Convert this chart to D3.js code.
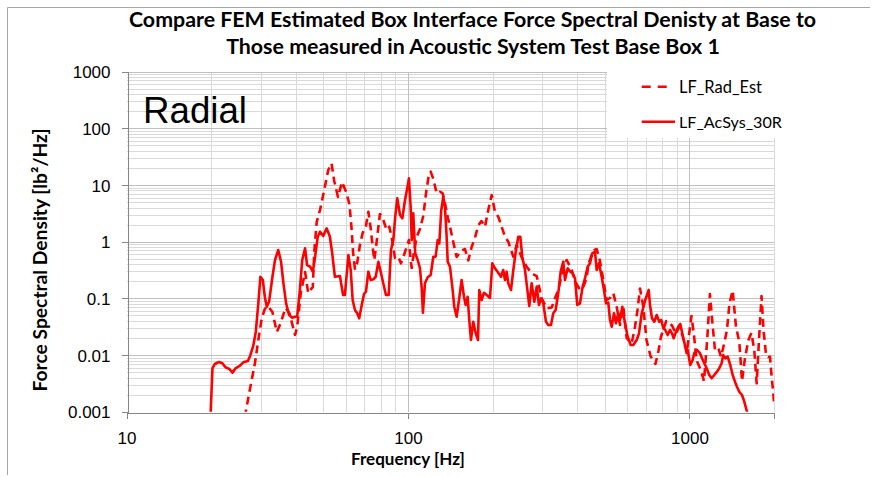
<!DOCTYPE html>
<html><head><meta charset="utf-8">
<script src="https://cdn.jsdelivr.net/npm/d3@7"></script>
<style>body{margin:0;background:#fff}svg{display:block}</style>
</head><body>
<svg id="c" width="881" height="477"></svg>
<script>
// ---------- data ----------
const titleLines = ["Compare FEM Estimated Box Interface Force Spectral Denisty at Base to",
                    "Those measured in Acoustic System Test Base Box 1"];
const xTicks = [10, 100, 1000];
const xTickLabels = ["10", "100", "1000"];
const yTicks = [0.001, 0.01, 0.1, 1, 10, 100, 1000];
const yTickLabels = ["0.001", "0.01", "0.1", "1", "10", "100", "1000"];
const seriesNames = ["LF_Rad_Est", "LF_AcSys_30R"];

const freqSolid = [19.8,20.2,20.6,21.3,21.9,22.5,23.2,23.8,24.4,25.3,26.0,27.0,27.5,28.2,28.8,29.4,29.9,30.5,31.0,31.5,
 32.1,33.0,33.7,34.6,35.4,36.1,36.9,37.8,38.8,39.7,40.4,41.3,42.1,43.1,43.8,44.9,45.9,46.7,47.8,48.7,
 50.0,51.4,52.8,53.8,55.0,57.3,58.8,59.7,61.4,62.6,63.6,64.8,66.0,67.1,68.5,69.8,70.9,72.3,73.7,75.3,
 76.8,78.5,80.0,81.7,83.5,85.4,87.0,88.7,90.1,91.6,93.7,95.5,97.6,99.4,100.8,102.2,103.1,104.4,106.1,108.3,
 110.3,111.9,113.0,114.9,117.5,120.4,123.0,125.4,127.5,129.2,131.3,133.5,135.3,137.2,138.4,141.0,144.1,146.0,148.9,151.8,
 155.1,158.1,160.3,162.9,165.1,167.4,170.6,174.0,177.3,179.2,182.7,186.2,190.4,195.6,199.3,203.7,209.3,213.9,218.0,221.1,
 224.2,227.1,232.3,236.7,241.4,246.5,250.6,254.7,260.4,264.7,269.7,275.0,281.0,286.6,292.0,296.9,302.5,309.2,315.1,322.1,
 328.2,334.7,341.9,348.7,356.2,361.2,369.3,377.2,384.7,392.0,399.4,408.3,417.4,425.4,434.9,443.2,451.6,461.7,468.1,477.1,
 487.7,497.0,505.2,514.8,522.0,529.3,539.4,548.3,558.7,566.5,577.3,590.2,603.4,618.3,631.7,649.4,661.8,676.6,696.6,716.4,
 724.0,735.9,749.9,764.7,781.1,794.0,807.1,820.4,836.8,852.6,866.7,878.9,895.4,915.4,927.5,945.8,966.3,985.4,1006.5,1026.5,
 1040,1063,1090,1108,1129,1151,1176,1199,1225,1252,1276,1301,1318,1340,1367,1396,1424,1451,1475,1503,
 1537,1566,1610];
const valSolid = [0.0005,0.00585,0.00697,0.00755,0.00717,0.00609,0.00569,0.0049,0.00585,0.0065,0.00746,0.00787,0.00976,0.0145,0.0259,0.0819,0.241,0.211,0.107,0.0714,
 0.0874,0.241,0.476,0.714,0.444,0.185,0.0819,0.051,0.0457,0.0475,0.0475,0.141,0.476,0.765,0.388,0.362,0.296,0.51,1.225,1.50,
 1.26,1.72,1.225,0.624,0.241,0.248,0.115,0.115,0.583,0.317,0.0937,0.0624,0.0546,0.0446,0.0765,0.12,0.131,0.296,0.211,0.217,
 0.241,0.444,0.296,0.185,0.115,0.115,0.714,1.07,2.76,5.83,2.96,2.59,5.44,8.74,13.1,4.14,1.07,3.17,0.624,0.476,
 0.34,0.151,0.056,0.185,0.236,0.259,0.544,0.544,1.07,0.937,3.62,6.22,4.14,1.225,0.444,0.362,0.141,0.0714,0.0475,0.0937,
 0.211,0.107,0.0765,0.107,0.0416,0.0185,0.0388,0.0242,0.0185,0.141,0.0937,0.126,0.115,0.102,0.416,0.34,0.284,0.241,0.317,0.211,
 0.296,0.185,0.141,0.317,0.666,1.225,1.225,0.544,0.317,0.161,0.0734,0.185,0.0874,0.161,0.0765,0.1,0.0819,0.0388,0.034,0.034,
 0.0546,0.0624,0.123,0.296,0.444,0.211,0.34,0.296,0.277,0.226,0.0765,0.0819,0.161,0.226,0.362,0.416,0.624,0.666,0.317,0.416,
 0.241,0.141,0.0819,0.084,0.0416,0.0317,0.0546,0.0364,0.0546,0.0416,0.0714,0.0364,0.0211,0.0151,0.0151,0.0185,0.0242,0.0546,0.0937,0.141,
 0.0765,0.0446,0.0388,0.051,0.0388,0.0416,0.0297,0.0277,0.0226,0.0277,0.0242,0.0198,0.0259,0.0326,0.0354,0.0226,0.0141,0.0123,0.00669,0.0082,
 0.0108,0.0123,0.0108,0.00878,0.00717,0.00585,0.00446,0.0039,0.00446,0.0051,0.00585,0.00717,0.01,0.00878,0.00937,0.00669,0.00446,0.0034,0.00277,0.00226,
 0.00198,0.00151,0.0009];

const freqDash = [26.3,27.5,28.6,29.4,30.2,31.0,31.8,33.0,34.2,35.3,36.7,37.9,39.7,40.4,41.6,43.1,44.2,45.9,46.5,47.4,
 48.7,50.4,52.1,53.5,54.7,56.4,58.3,60.5,62.0,63.0,63.8,64.8,66.0,67.5,69.0,70.9,72.3,73.7,74.9,75.9,
 77.0,78.2,79.5,81.7,84.0,85.8,87.5,89.9,92.4,94.4,96.8,99.0,100.8,102.2,103.1,105.0,107.4,110.3,113.3,116.3,
 118.3,120.4,123.0,126.5,129.9,132.8,135.3,138.7,142.1,146.9,148.9,153.0,159.4,163.8,168.4,173.0,177.3,182.4,187.7,193.2,
 198.3,203.7,209.3,215.2,221.1,227.1,232.3,236.7,243.4,250.0,256.8,264.1,275.0,286.6,298.5,311.0,324.0,332.9,341.9,356.2,
 366.3,381.6,392.0,402.7,408.3,419.5,431.3,437.0,449.3,459.7,468.1,480.9,494.1,508.0,522.0,536.3,551.4,566.5,582.0,598.3,
 623.4,640.4,653.7,667.2,685.5,703.5,727.0,757.0,776.0,792.0,827.1,849.1,871.5,895.4,920.0,945.8,977.4,1016.5,1037.5,1059,
 1097,1126,1156,1182,1207,1232,1266,1294,1329,1359,1387,1424,1463,1503,1537,1575,1620,1660,1699,1733,
 1766,1803,1833,1871,1901,1932,1959,1985,2000];
const valDash = [0.0008,0.00263,0.00726,0.0185,0.0433,0.065,0.0734,0.0575,0.0256,0.0368,0.0677,0.0553,0.0226,0.0313,0.1245,0.292,0.1245,0.159,0.714,2.23,
 3.62,8.16,18.4,24.1,11.8,6.14,11.3,7.23,4.44,1.744,0.658,0.33,0.421,0.875,1.423,1.892,3.38,1.744,0.816,0.476,
 0.806,1.544,3.08,2.414,1.608,1.839,1.21,0.516,0.544,0.416,0.583,0.816,1.072,0.476,0.344,0.658,1.21,1.675,2.84,8.16,
 13.8,17.2,12.8,7.14,7.62,7.14,4.81,2.618,1.544,0.714,0.537,0.666,0.743,0.466,0.816,1.162,1.892,2.318,1.839,3.77,
 6.66,3.38,2.76,1.839,1.225,1.0,0.714,0.544,0.875,0.624,0.457,0.362,0.277,0.248,0.1004,0.0669,0.0691,0.1004,0.1406,0.344,
 0.476,0.317,0.2027,0.159,0.1406,0.161,0.226,0.388,0.583,0.714,0.743,0.457,0.211,0.0937,0.1016,0.123,0.0714,0.034,0.0714,0.02,
 0.0161,0.0313,0.0624,0.1495,0.0714,0.0185,0.00964,0.00697,0.0118,0.0211,0.04,0.0384,0.0317,0.0236,0.0317,0.0217,0.0108,0.049,0.0226,0.0082,
 0.00546,0.00349,0.0185,0.1196,0.0364,0.0123,0.0133,0.00937,0.0161,0.0277,0.0819,0.1378,0.0317,0.0172,0.00349,0.00889,0.0185,0.0245,0.0123,0.00318,
 0.0185,0.1102,0.0277,0.01,0.00926,0.00937,0.00416,0.00212,0.00132];

// ---------- layout ----------
const svg = d3.select("#c");
const P = {l: 126.5, r: 774.2, t: 71.6, b: 411.8};
const x = d3.scaleLog().domain([10, 2000]).range([P.l, P.r]);
const y = d3.scaleLog().domain([0.001, 1000]).range([P.b, P.t]);

function fit(sel, w) {
  const fs = parseFloat(sel.attr("font-size"));
  const len = sel.node().getComputedTextLength();
  sel.attr("font-size", (fs * w / len).toFixed(2));
}

// outer frame
svg.append("path").attr("d", "M7.5,475 V7.5 H870").attr("fill", "none")
   .attr("stroke", "#a6a6a6").attr("stroke-width", 1);

// gridlines
const minorX = [], minorY = [];
[10, 100, 1000].forEach(d => { for (let k = 2; k <= 9; k++) if (k * d <= 2000) minorX.push(k * d); });
[0.001, 0.01, 0.1, 1, 10, 100].forEach(d => { for (let k = 2; k <= 9; k++) minorY.push(k * d); });
const g = svg.append("g").attr("shape-rendering", "crispEdges");
g.selectAll(".mx").data(minorX).enter().append("line")
  .attr("x1", d => Math.round(x(d)) + 0.5).attr("x2", d => Math.round(x(d)) + 0.5)
  .attr("y1", P.t).attr("y2", P.b).attr("stroke", "#d9d9d9");
g.selectAll(".my").data(minorY).enter().append("line")
  .attr("y1", d => Math.round(y(d)) + 0.5).attr("y2", d => Math.round(y(d)) + 0.5)
  .attr("x1", P.l).attr("x2", P.r).attr("stroke", "#d9d9d9");
g.selectAll(".Mx").data(xTicks.slice(1)).enter().append("line")
  .attr("x1", d => Math.round(x(d)) + 0.5).attr("x2", d => Math.round(x(d)) + 0.5)
  .attr("y1", P.t).attr("y2", P.b).attr("stroke", "#bfbfbf");
g.selectAll(".My").data(yTicks.slice(1)).enter().append("line")
  .attr("y1", d => Math.round(y(d)) + 0.5).attr("y2", d => Math.round(y(d)) + 0.5)
  .attr("x1", P.l).attr("x2", P.r).attr("stroke", "#bfbfbf");

// axes
const yAxis = svg.append("g").attr("transform", `translate(${Math.round(P.l) + 0.5},0)`)
  .call(d3.axisLeft(y).tickValues(yTicks).tickFormat((d, i) => yTickLabels[i]).tickSize(6).tickPadding(11));
const xAxis = svg.append("g").attr("transform", `translate(0,${Math.round(P.b) + 0.5})`)
  .call(d3.axisBottom(x).tickValues(xTicks).tickFormat((d, i) => xTickLabels[i]).tickSize(6).tickPadding(13));
[yAxis, xAxis].forEach(a => {
  a.select(".domain").attr("stroke", "#868686").attr("shape-rendering", "crispEdges");
  a.selectAll(".tick line").attr("stroke", "#868686").attr("shape-rendering", "crispEdges");
  a.selectAll("text").attr("font-family", "'Liberation Sans', Arial, sans-serif")
    .attr("font-size", 17).attr("fill", "#000");
});
yAxis.selectAll("text").attr("dy", "0.36em");

// clip
svg.append("clipPath").attr("id", "pc").append("rect")
  .attr("x", P.l).attr("y", P.t).attr("width", P.r - P.l).attr("height", P.b - P.t);

const line = d3.line().x(d => x(d[0])).y(d => y(d[1]));
const dashData = freqDash.map((f, i) => [f, valDash[i]]);
const solidData = freqSolid.map((f, i) => [f, valSolid[i]]);
const lines = svg.append("g").attr("clip-path", "url(#pc)");
lines.append("path").attr("d", line(dashData)).attr("fill", "none").attr("stroke", "#ff0000")
  .attr("stroke-width", 2.6).attr("stroke-dasharray", "8,5").attr("stroke-linejoin", "round");
lines.append("path").attr("d", line(solidData)).attr("fill", "none").attr("stroke", "#ff0000")
  .attr("stroke-width", 2.6).attr("stroke-linejoin", "round");

// legend
svg.append("rect").attr("x", 607).attr("y", 62).attr("width", 260).attr("height", 76).attr("fill", "#fff");
svg.append("line").attr("x1", 641.7).attr("x2", 670).attr("y1", 86.7).attr("y2", 86.7)
  .attr("stroke", "#ff0000").attr("stroke-width", 2.6).attr("stroke-dasharray", "9,7");
svg.append("line").attr("x1", 641.7).attr("x2", 675).attr("y1", 121.7).attr("y2", 121.7)
  .attr("stroke", "#ff0000").attr("stroke-width", 2.6);
const lf = "Lato, 'Open Sans', sans-serif";
const l1 = svg.append("text").attr("x", 679).attr("y", 92.5).attr("font-family", lf).attr("font-size", 16).text(seriesNames[0]);
fit(l1, 83);
const l2 = svg.append("text").attr("x", 679).attr("y", 127.5).attr("font-family", lf).attr("font-size", 16).text(seriesNames[1]);
fit(l2, 103);

// "Radial"
const rad = svg.append("text").attr("x", 143).attr("y", 123).attr("font-family", "'Liberation Sans', Arial, sans-serif")
  .attr("font-size", 36).text("Radial");
fit(rad, 104);

// titles
const t1 = svg.append("text").attr("x", 472.5).attr("y", 27).attr("text-anchor", "middle")
  .attr("font-family", lf).attr("font-weight", 700).attr("font-size", 19).text(titleLines[0]);
fit(t1, 687);
const t2 = svg.append("text").attr("x", 473).attr("y", 54).attr("text-anchor", "middle")
  .attr("font-family", lf).attr("font-weight", 700).attr("font-size", 19).text(titleLines[1]);
fit(t2, 494);

const xt = svg.append("text").attr("x", 408).attr("y", 465).attr("text-anchor", "middle")
  .attr("font-family", lf).attr("font-weight", 700).attr("font-size", 16).text("Frequency [Hz]");
fit(xt, 114);
const yt = svg.append("text").attr("transform", "translate(47,260) rotate(-90)").attr("text-anchor", "middle")
  .attr("font-family", lf).attr("font-weight", 700).attr("font-size", 16).text("Force Spectral Density [lb²/Hz]");
fit(yt, 263);
</script>
</body></html>
